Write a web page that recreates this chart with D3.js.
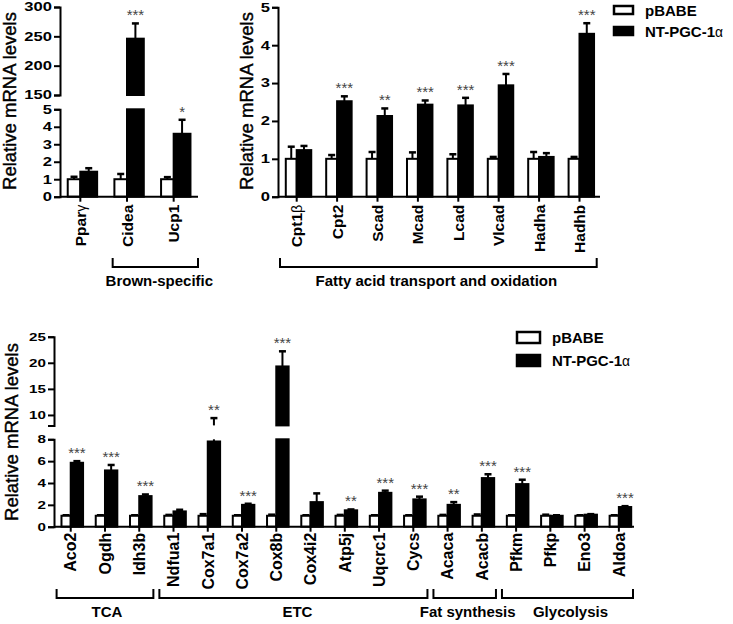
<!DOCTYPE html>
<html>
<head>
<meta charset="utf-8">
<script src="https://cdn.jsdelivr.net/npm/d3@7"></script>
<style>
  body { margin: 0; background: #fff; }
  svg { display: block; font-family: Arial, "Liberation Sans", sans-serif; }
</style>
</head>
<body>
<script>
// ---- data ----
var series = ["pBABE", "NT-PGC-1α"];

// top left: brown-specific genes
var tlGenes   = ["Pparγ", "Cidea", "Ucp1"];
var tlCtrl    = [1.0, 1.0, 1.0];
var tlCtrlErr = [0.14, 0.3, 0.12];
var tlNT      = [1.43, 246, 3.6];
var tlNTErr   = [0.2, 26, 0.8];
var tlStars   = ["", "***", "*"];

// top right: fatty acid transport and oxidation
var trGenes   = ["Cpt1β", "Cpt2", "Scad", "Mcad", "Lcad", "Vlcad", "Hadha", "Hadhb"];
var trCtrl    = [1, 1, 1, 1, 1, 1, 1, 1];
var trCtrlErr = [0.32, 0.1, 0.18, 0.17, 0.12, 0.05, 0.18, 0.05];
var trNT      = [1.23, 2.52, 2.13, 2.43, 2.41, 2.94, 1.05, 4.3];
var trNTErr   = [0.11, 0.13, 0.2, 0.11, 0.2, 0.3, 0.1, 0.28];
var trStars   = ["", "***", "**", "***", "***", "***", "", "***"];

// bottom: TCA, ETC, fat synthesis, glycolysis
var btGenes   = ["Aco2", "Ogdh", "Idh3b", "Ndfua1", "Cox7a1", "Cox7a2", "Cox8b", "Cox4i2", "Atp5j",
                 "Uqcrc1", "Cycs", "Acaca", "Acacb", "Pfkm", "Pfkp", "Eno3", "Aldoa"];
var btCtrl    = [1, 1, 1, 1, 1, 1, 1, 1, 1, 1, 1, 1, 1, 1, 1, 1, 1];
var btCtrlErr = [0.05, 0.05, 0.05, 0.08, 0.15, 0.05, 0.1, 0.05, 0.08, 0.05, 0.05, 0.08, 0.12, 0.05, 0.1, 0.05, 0.05];
var btNT      = [5.85, 5.15, 2.8, 1.4, 7.8, 2.0, 19.3, 2.25, 1.5, 3.1, 2.5, 2.0, 4.45, 3.9, 1.0, 1.1, 1.8];
var btNTErr   = [0.15, 0.5, 0.15, 0.15, 1.6, 0.1, 2.9, 0.8, 0.08, 0.2, 0.25, 0.25, 0.35, 0.4, 0.05, 0.05, 0.08];
var btStars   = ["***", "***", "***", "", "**", "***", "***", "", "**", "***", "***", "**", "***", "***", "", "", "***"];

var tlGroups = [{ label: "Brown-specific", from: "Cidea", to: "Ucp1" }];
var trGroups = [{ label: "Fatty acid transport and oxidation", from: "Cpt1β", to: "Hadhb" }];
var btGroups = [
  { label: "TCA", from: "Aco2", to: "Idh3b" },
  { label: "ETC", from: "Ndfua1", to: "Cycs" },
  { label: "Fat synthesis", from: "Acaca", to: "Acacb" },
  { label: "Glycolysis", from: "Pfkm", to: "Aldoa" }
];

var svg = d3.select("body").append("svg")
    .attr("width", 733)
    .attr("height", 624);

// greek letter at the end of a name is set in a plain face
function setLabel(sel, s) {
  var m = s.match(/^(.*?)([α-ω])$/);
  if (m) {
    sel.append("tspan").text(m[1]);
    sel.append("tspan").attr("font-weight", "normal").attr("font-size", "0.92em").text(m[2]);
  } else {
    sel.text(s);
  }
}

function drawPanel(p) {
  var g = svg.append("g");
  var x = d3.scaleBand().domain(p.genes).range(p.xRange);
  var step = x.bandwidth();
  var wW = step * 0.27, wB = step * 0.36;
  var stretch = 1.38; // tick numbers are set wide in the figure

  var segs = p.segments.map(function(s) {
    return { lo: s.domain[0], hi: s.domain[1], ticks: s.ticks,
             y: d3.scaleLinear().domain(s.domain).range(s.range) };
  });
  var zeroY = segs[0].y(0);

  // y axes, one per segment of the broken axis
  segs.forEach(function(s) {
    var ax = g.append("g")
        .attr("transform", "translate(" + p.axisX + ",0)")
        .call(d3.axisLeft(s.y).tickValues(s.ticks).tickFormat(d3.format("d")).tickSize(6).tickPadding(2));
    ax.select(".domain").attr("stroke-width", 2);
    ax.selectAll(".tick line").attr("stroke-width", 2);
    ax.selectAll(".tick text")
        .attr("x", -8 / stretch)
        .attr("transform", "scale(" + stretch + ",1)")
        .attr("font-size", p.tickFont)
        .attr("font-weight", "bold")
        .attr("fill", "#000")
        .attr("font-family", null);
  });

  function segFor(v) {
    for (var i = 0; i < segs.length; i++) {
      if (v >= segs[i].lo && v <= segs[i].hi) return segs[i];
    }
    return segs[segs.length - 1];
  }

  function bar(v, e, x0, w, fill, star) {
    var cx = x0 + w / 2;
    segs.forEach(function(s) {
      // error line, clipped to this segment
      var a = Math.max(v, s.lo), b = Math.min(v + e, s.hi);
      if (b > a) {
        g.append("line")
            .attr("x1", cx).attr("x2", cx)
            .attr("y1", s.y(a)).attr("y2", s.y(b))
            .attr("stroke", "#000").attr("stroke-width", 2);
      }
      if (v + e >= s.lo && v + e <= s.hi) {
        g.append("line")
            .attr("x1", cx - 3.5).attr("x2", cx + 3.5)
            .attr("y1", s.y(v + e)).attr("y2", s.y(v + e))
            .attr("stroke", "#000").attr("stroke-width", 2.5);
      }
      if (v <= s.lo) return;
      var top = s.y(Math.min(v, s.hi)), bot = s.y(s.lo);
      g.append("rect")
          .attr("x", x0).attr("width", w)
          .attr("y", top).attr("height", bot - top)
          .attr("fill", fill)
          .attr("stroke", "#000").attr("stroke-width", 2);
    });
    if (star) {
      var s = segFor(v + e);
      g.append("text")
          .attr("x", cx).attr("y", s.y(v + e) - 3)
          .attr("text-anchor", "middle")
          .attr("font-size", 15)
          .attr("fill", "#444")
          .text(star);
    }
  }

  p.genes.forEach(function(name, i) {
    var c = x(name) + step / 2;
    bar(p.ctrl[i], p.ctrlErr[i], c - wW, wW, "#fff", "");
    bar(p.nt[i], p.ntErr[i], c, wB, "#000", p.stars[i]);
  });

  // x axis
  var xa = g.append("g")
      .attr("transform", "translate(0," + zeroY + ")")
      .call(d3.axisBottom(x).tickSize(5).tickSizeOuter(0).tickFormat(""));
  xa.select(".domain").attr("d", "M" + p.axisX + ",0H" + p.axisEnd).attr("stroke-width", 2);
  xa.selectAll(".tick line").attr("stroke-width", 2);

  p.genes.forEach(function(name) {
    var t = g.append("text")
        .attr("transform", "translate(" + (x(name) + step / 2) + "," + (zeroY + p.labelGap) + ") rotate(-90)")
        .attr("text-anchor", "end")
        .attr("dy", "0.36em")
        .attr("font-size", p.labelFont)
        .attr("font-weight", "bold");
    setLabel(t, name);
  });

  // group brackets
  p.groups.forEach(function(gr, i) {
    var x1 = x(gr.from) + p.inset[0], x2 = x(gr.to) + step - p.inset[1];
    g.append("path")
        .attr("d", "M" + x1 + "," + (p.bracketY - 9) + "V" + p.bracketY + "H" + x2 + "V" + (p.bracketY - 9))
        .attr("fill", "none").attr("stroke", "#000").attr("stroke-width", 2);
    g.append("text")
        .attr("x", (x1 + x2) / 2 + p.groupDx[i]).attr("y", p.bracketY + 19)
        .attr("text-anchor", "middle")
        .attr("font-size", 15)
        .attr("font-weight", "bold")
        .text(gr.label);
  });

  // y title
  g.append("text")
      .attr("transform", "translate(" + p.titleX + "," + p.titleY + ") rotate(-90)")
      .attr("text-anchor", "middle")
      .attr("font-size", 18.5)
      .attr("stroke", "#000")
      .attr("stroke-width", 0.4)
      .text("Relative mRNA levels");

  if (p.legend) {
    var L = p.legend;
    series.forEach(function(name, i) {
      var yy = L.y + i * L.gap;
      svg.append("rect")
          .attr("x", L.x).attr("y", yy)
          .attr("width", L.w).attr("height", L.h)
          .attr("fill", i === 0 ? "#fff" : "#000")
          .attr("stroke", "#000").attr("stroke-width", 2.5);
      var t = svg.append("text")
          .attr("x", L.x + L.w + 12).attr("y", yy + L.h / 2 + 5.5)
          .attr("font-size", 15)
          .attr("font-weight", "bold");
      setLabel(t, name);
    });
  }
}

drawPanel({
  genes: tlGenes, ctrl: tlCtrl, ctrlErr: tlCtrlErr, nt: tlNT, ntErr: tlNTErr, stars: tlStars,
  groups: tlGroups, inset: [9, -1], groupDx: [4],
  xRange: [57, 197], axisX: 60, axisEnd: 198,
  segments: [
    { domain: [0, 5], range: [196.7, 109.3], ticks: [0, 1, 2, 3, 4, 5] },
    { domain: [150, 300], range: [95, 7], ticks: [150, 200, 250, 300] }
  ],
  tickFont: 12, labelFont: 15.5, labelGap: 8,
  bracketY: 267, titleX: 16, titleY: 101
});

drawPanel({
  genes: trGenes, ctrl: trCtrl, ctrlErr: trCtrlErr, nt: trNT, ntErr: trNTErr, stars: trStars,
  groups: trGroups, inset: [3.5, 3], groupDx: [-2],
  xRange: [276.5, 599.7], axisX: 278, axisEnd: 600,
  segments: [
    { domain: [0, 5], range: [196.7, 7.3], ticks: [0, 1, 2, 3, 4, 5] }
  ],
  tickFont: 12, labelFont: 15.5, labelGap: 8,
  bracketY: 267, titleX: 253, titleY: 101,
  legend: { x: 614, y: 6, w: 19, h: 8, gap: 21 }
});

drawPanel({
  genes: btGenes, ctrl: btCtrl, ctrlErr: btCtrlErr, nt: btNT, ntErr: btNTErr, stars: btStars,
  groups: btGroups, inset: [3, 3], groupDx: [2, 4, 3, 3],
  xRange: [53.6, 636], axisX: 54, axisEnd: 634,
  segments: [
    { domain: [0, 8], range: [526.7, 439.3], ticks: [0, 2, 4, 6, 8] },
    { domain: [8, 25], range: [425.4, 336.7], ticks: [10, 15, 20, 25] }
  ],
  tickFont: 11, labelFont: 16, labelGap: 6,
  bracketY: 598, titleX: 18, titleY: 432,
  legend: { x: 517, y: 332, w: 23, h: 11, gap: 23 }
});
</script>
</body>
</html>
